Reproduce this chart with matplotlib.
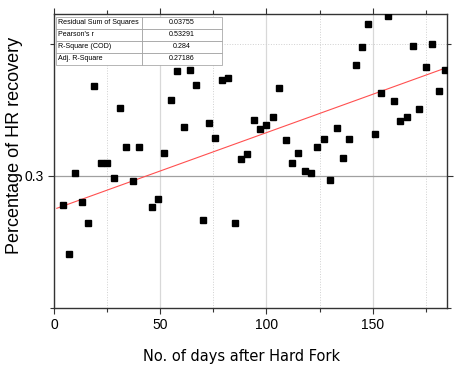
import numpy as np
import matplotlib
matplotlib.use("Agg")
import matplotlib.pyplot as plt
from matplotlib.ticker import FixedLocator, NullFormatter

# days after hard fork (every 3 days, day 43 missing)
days = [4, 7, 10, 13, 16, 19, 22, 25, 28, 31, 34, 37, 40, 46, 49, 52, 55, 58,
        61, 64, 67, 70, 73, 76, 79, 82, 85, 88, 91, 94, 97, 100, 103, 106, 109,
        112, 115, 118, 121, 124, 127, 130, 133, 136, 139, 142, 145, 148, 151,
        154, 157, 160, 163, 166, 169, 172, 175, 178, 181, 184]
recovery = [0.2780, 0.2409, 0.3020, 0.2803, 0.2642, 0.3684, 0.3096, 0.3096,
            0.2987, 0.3515, 0.3222, 0.2960, 0.3222, 0.2765, 0.2828, 0.3177,
            0.3573, 0.3793, 0.3371, 0.3801, 0.3692, 0.2667, 0.3404, 0.3288,
            0.3725, 0.3742, 0.2642, 0.3131, 0.3169, 0.3422, 0.3356, 0.3384,
            0.3449, 0.3664, 0.3270, 0.3098, 0.3174, 0.3040, 0.3020, 0.3222,
            0.3283, 0.2970, 0.3364, 0.3139, 0.3283, 0.3843, 0.3980, 0.4154,
            0.3320, 0.3631, 0.4210, 0.3570, 0.3414, 0.3447, 0.3987, 0.3510,
            0.3828, 0.4002, 0.3642, 0.3806]

# fitted line end points
fit_x = [1.3, 184]
fit_y = [0.2755, 0.3816]

stat_names = ["Residual Sum of Squares", "Pearson's r", "R-Square (COD)", "Adj. R-Square"]
stat_values = ["0.03755", "0.53291", "0.284", "0.27186"]

fig = plt.figure(figsize=(4.57, 3.65), dpi=100)
ax = fig.add_axes([0.1182, 0.1562, 0.860, 0.8055])

ax.plot(days, recovery, linestyle='none', marker='s', ms=5, color='black', zorder=3)
ax.plot(fit_x, fit_y, color='#ff5050', lw=0.8, zorder=2)

ax.set_xlim(0, 185)
ax.set_ylim(0.2, 0.4227)
ax.set_xticks([0, 50, 100, 150])
ax.xaxis.set_minor_locator(FixedLocator([25, 75, 125, 175]))
ax.set_yticks([0.3])
ax.set_yticklabels(['0.3'])
ax.yaxis.set_minor_locator(FixedLocator([0.2, 0.4]))
ax.yaxis.set_minor_formatter(NullFormatter())

ax.grid(which='major', axis='x', color='#d8d8d8', lw=0.9)
ax.grid(which='major', axis='y', color='#a0a0a0', lw=0.9)
ax.grid(which='minor', color='#d0d0d0', lw=0.7, linestyle=':')
ax.set_axisbelow(True)

ax.tick_params(which='both', direction='out', top=True, right=True, labelsize=10,
               width=0.8, color='#333333')
ax.tick_params(which='major', length=4)
ax.tick_params(which='minor', length=3)
for lab in ax.get_xticklabels() + ax.get_yticklabels():
    lab.set_family('Liberation Sans')
for s in ax.spines.values():
    s.set_color('#333333')
    s.set_linewidth(1.0)

ax.set_xlabel("No. of days after Hard Fork", fontsize=10.5, labelpad=12, family='DejaVu Sans')
ax.xaxis.label.set_x(0.476)
ax.set_ylabel("Percentage of HR recovery", fontsize=13, labelpad=1, family='Liberation Sans')
ax.yaxis.label.set_y(0.554)

tbl = ax.table(cellText=[[n, v] for n, v in zip(stat_names, stat_values)],
               colWidths=[0.518, 0.482], bbox=[0.005, 0.827, 0.422, 0.163],
               zorder=4)
tbl.auto_set_font_size(False)
tbl.set_fontsize(5.1)
for (r, c), cell in tbl.get_celld().items():
    cell.set_edgecolor('#999999')
    cell.set_linewidth(0.5)
    cell.set_facecolor('white')
    cell.get_text().set_family('Liberation Sans')
    if c == 0:
        cell.get_text().set_ha('left')
        cell.PAD = 0.02
    else:
        cell.get_text().set_ha('center')

fig.savefig("out.png", dpi=100)
